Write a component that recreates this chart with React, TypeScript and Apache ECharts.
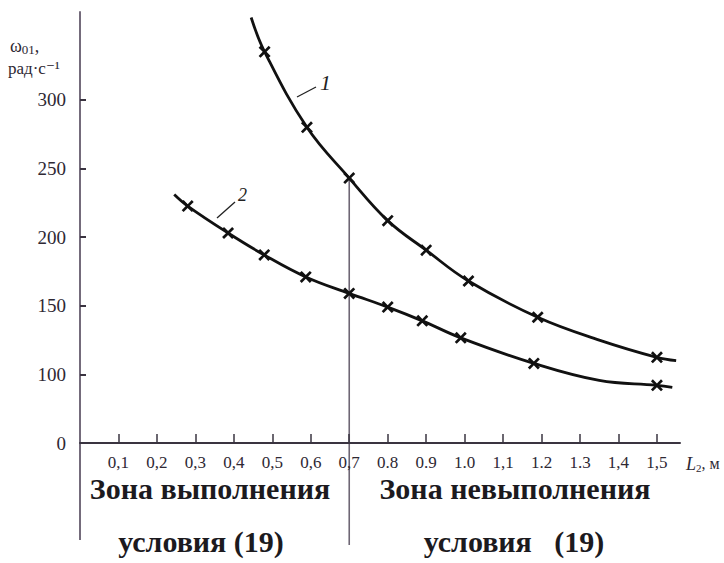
import React, { useEffect, useRef } from "react";
import * as echarts from "echarts";

// Curve 1 (x in m, ω01 in rad/s)
const xs1 = [0.445, 0.48, 0.59, 0.7, 0.8, 0.9, 1.01, 1.19, 1.35, 1.5, 1.55];
const ys1 = [360, 335, 280, 243, 212, 190.5, 168, 141.6, 125, 112.4, 110];
const marked1 = [false, true, true, true, true, true, true, true, false, true, false];

// Curve 2
const xs2 = [0.245, 0.28, 0.385, 0.479, 0.587, 0.7, 0.8, 0.89, 0.99, 1.18, 1.35, 1.5, 1.54];
const ys2 = [231, 222.6, 203, 187, 171, 159, 149, 139, 126.6, 108, 95.6, 92, 90.5];
const marked2 = [false, true, true, true, true, true, true, true, true, true, false, true, false];

const xTicks = [0.1, 0.2, 0.3, 0.4, 0.5, 0.6, 0.7, 0.8, 0.9, 1.0, 1.1, 1.2, 1.3, 1.4, 1.5];
const xTickLabels = ["0,1", "0,2", "0,3", "0,4", "0,5", "0,6", "0,7", "0.8", "0.9", "1.0", "1,1", "1.2", "1.3", "1,4", "1,5"];
const yTicks = [100, 150, 200, 250, 300];
const yLabelValues = [50, 100, 150, 200, 250, 300];
const yTickLabels = ["0", "100", "150", "200", "250", "300"];

const zoneLeft = ["Зона выполнения", "условия (19)"];
const zoneRight = ["Зона невыполнения", "условия   (19)"];

const CROSS = "path://M0,1.6L1.6,0L5,3.4L8.4,0L10,1.6L6.6,5L10,8.4L8.4,10L5,6.6L1.6,10L0,8.4L3.4,5Z";
const SERIF = "'Liberation Serif', 'DejaVu Serif', serif";

function build(xs: number[], ys: number[], marked: boolean[]) {
  return xs.map((x, i) =>
    marked[i]
      ? { value: [x, ys[i]] }
      : { value: [x, ys[i]], symbol: "none" }
  );
}

export default function App() {
  const ref = useRef<HTMLDivElement>(null);
  useEffect(() => {
    const chart = echarts.init(ref.current!, null, { renderer: "svg" });
    const lineStyle = { color: "#111", width: 2.8 };
    chart.setOption({
      animation: false,
      grid: { left: 80, right: 44, top: 12, bottom: 120 },
      xAxis: {
        type: "value",
        min: 0,
        max: 1.56,
        splitLine: { show: false },
        axisLine: { show: true, onZero: false, lineStyle: { color: "#3a3440", width: 2 } },
        axisTick: { show: true, inside: true, length: 9, customValues: xTicks, lineStyle: { color: "#3a3440", width: 1.5 } },
        axisLabel: {
          customValues: xTicks,
          margin: 11,
          fontFamily: SERIF,
          fontSize: 17,
          color: "#2e2833",
          formatter: (v: number) => {
            const i = xTicks.findIndex((t) => Math.abs(t - v) < 1e-6);
            return i >= 0 ? xTickLabels[i] : "";
          },
        },
      },
      yAxis: {
        type: "value",
        min: 50,
        max: 364,
        splitLine: { show: false },
        axisLine: { show: true, onZero: false, lineStyle: { color: "#746b7b", width: 2 } },
        axisTick: { show: true, inside: true, length: 6, customValues: yTicks, lineStyle: { color: "#3a3440", width: 2 } },
        axisLabel: {
          customValues: yLabelValues,
          margin: 14,
          fontFamily: SERIF,
          fontSize: 19,
          color: "#2e2833",
          formatter: (v: number) => {
            const i = yLabelValues.findIndex((t) => Math.abs(t - v) < 1e-6);
            return i >= 0 ? yTickLabels[i] : "";
          },
        },
      },
      series: [
        {
          type: "line",
          name: "1",
          data: build(xs1, ys1, marked1),
          smooth: 0.4,
          symbol: CROSS,
          symbolSize: 12,
          showAllSymbol: true,
          lineStyle,
          itemStyle: { color: "#111" },
          clip: false,
        },
        {
          type: "line",
          name: "2",
          data: build(xs2, ys2, marked2),
          smooth: 0.4,
          symbol: CROSS,
          symbolSize: 12,
          showAllSymbol: true,
          lineStyle,
          itemStyle: { color: "#111" },
          clip: false,
        },
      ],
    });

    const p07 = chart.convertToPixel({ gridIndex: 0 }, [0.7, ys1[3]]) as number[];
    const origin = chart.convertToPixel({ gridIndex: 0 }, [0, 50]) as number[];
    const xEnd = chart.convertToPixel({ gridIndex: 0 }, [1.56, 50]) as number[];
    const bottomY = 545;
    const zoneFont = { fontFamily: SERIF, fontSize: 30, fontWeight: "bold", fill: "#1c1a1e" };

    chart.setOption({
      graphic: [
        { type: "line", shape: { x1: p07[0], y1: p07[1], x2: p07[0], y2: bottomY }, style: { stroke: "#6e6674", lineWidth: 1.6 } },
        { type: "line", shape: { x1: origin[0], y1: origin[1], x2: origin[0], y2: bottomY - 5 }, style: { stroke: "#746b7b", lineWidth: 2 } },
        {
          type: "text",
          x: 10,
          y: 35,
          style: {
            text: "ω{s|01},",
            fontFamily: SERIF,
            fontSize: 18,
            fill: "#2e2833",
            rich: { s: { fontSize: 13, fontFamily: SERIF, padding: [8, 0, 0, 0], fill: "#2e2833" } },
          },
        },
        { type: "text", x: 8, y: 60, style: { text: "рад·с⁻¹", fontFamily: SERIF, fontSize: 17, fill: "#2e2833" } },
        {
          type: "text",
          x: xEnd[0] + 6,
          y: origin[1] + 11,
          style: {
            text: "{i|L}{s|2}, м",
            fontFamily: SERIF,
            fontSize: 16,
            fill: "#2e2833",
            rich: {
              i: { fontStyle: "italic", fontSize: 18, fontFamily: SERIF },
              s: { fontSize: 11, fontFamily: SERIF, padding: [8, 0, 0, 0] },
            },
          },
        },
        { type: "line", shape: { x1: 297, y1: 97, x2: 316, y2: 87 }, style: { stroke: "#222", lineWidth: 1.3 } },
        { type: "text", x: 320, y: 71, style: { text: "1", fontFamily: SERIF, fontStyle: "italic", fontSize: 22, fill: "#222" } },
        { type: "line", shape: { x1: 217, y1: 218, x2: 235, y2: 202 }, style: { stroke: "#222", lineWidth: 1.3 } },
        { type: "text", x: 238, y: 186, style: { text: "2", fontFamily: SERIF, fontStyle: "italic", fontSize: 18, fill: "#222" } },
        { type: "text", x: 210, y: 488, style: { text: zoneLeft[0], ...zoneFont, align: "center", verticalAlign: "middle" } },
        { type: "text", x: 201, y: 541, style: { text: zoneLeft[1], ...zoneFont, align: "center", verticalAlign: "middle" } },
        { type: "text", x: 515, y: 488, style: { text: zoneRight[0], ...zoneFont, align: "center", verticalAlign: "middle" } },
        { type: "text", x: 514, y: 541, style: { text: zoneRight[1], ...zoneFont, align: "center", verticalAlign: "middle" } },
      ],
    });
    return () => chart.dispose();
  }, []);
  return <div ref={ref} style={{ position: "absolute", left: 0, top: 0, width: 724, height: 563, background: "#fff" }} />;
}
